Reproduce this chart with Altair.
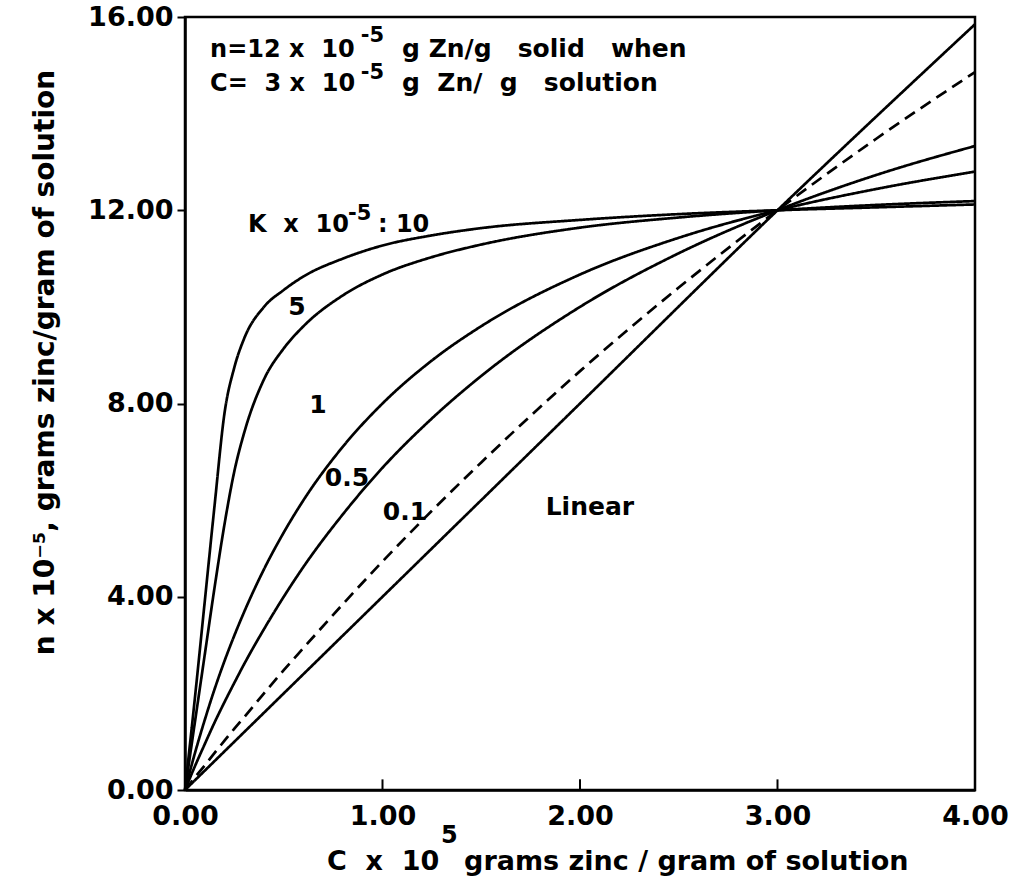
import altair as alt
import pandas as pd

# ---- data ----
C_grid = [0, 0.05, 0.1, 0.15, 0.2, 0.25, 0.3, 0.4, 0.5, 0.6, 0.8, 1.0, 1.25, 1.5, 2.0, 2.5, 3.0, 3.5, 4.0]
n_K10 = [0, 1.9, 3.9, 5.9, 7.8, 8.75, 9.35, 10.0, 10.35, 10.63, 11.0, 11.27, 11.48, 11.63, 11.8, 11.92, 12.0, 12.06, 12.12]
n_K5 = [0, 1.4, 2.8, 4.2, 5.5, 6.6, 7.4, 8.5, 9.14, 9.6, 10.24, 10.67, 11.03, 11.29, 11.64, 11.85, 12.0, 12.11, 12.19]
n_K1 = [0, 0.76, 1.45, 2.09, 2.67, 3.2, 3.69, 4.57, 5.33, 6.0, 7.11, 8.0, 8.89, 9.6, 10.67, 11.43, 12.0, 12.44, 12.8]
n_K05 = [0, 0.49, 0.95, 1.40, 1.82, 2.22, 2.61, 3.33, 4.0, 4.62, 5.71, 6.67, 7.69, 8.57, 10.0, 11.11, 12.0, 12.73, 13.33]
n_K01 = [0, 0.26, 0.51, 0.77, 1.02, 1.27, 1.51, 2.0, 2.48, 2.94, 3.85, 4.73, 5.78, 6.78, 8.67, 10.4, 12.0, 13.48, 14.86]
C_lin = [0, 1, 2, 3, 4]
n_lin = [0, 4, 8, 12, 15.85]

series_names = ["K10", "K5", "K1", "K0.5", "K0.1"]
series_vals = [n_K10, n_K5, n_K1, n_K05, n_K01]
series_style = ["solid", "solid", "solid", "solid", "dashed"]

x_ticks = [0, 1, 2, 3, 4]
y_ticks = [0, 4, 8, 12, 16]
inner_x_ticks = [1, 2, 3]

S = "\u00a0"  # non-breaking space (keeps wide spacing)

# phrase annotations (left aligned, alphabetic baseline)
word_text = ["n=12" + S + "x" + S + S + "10", "-5",
             "g" + S + "Zn/g" + S + S + S + "solid" + S + S + S + "when",
             "C=" + S + S + "3" + S + "x" + S + S + "10", "-5",
             "g" + S + S + "Zn/" + S + S + "g" + S + S + S + "solution",
             "K" + S + S + "x" + S + S + "10", "-5", ":" + S + "10",
             "C" + S + S + "x" + S + S + "10", "5", "grams zinc / gram of solution"]
word_x = [0.127, 0.89, 1.099,
          0.127, 0.89, 1.099,
          0.319, 0.825, 0.977,
          0.719, 1.296, 1.413]
word_y = [15.17, 15.48, 15.17,
          14.47, 14.72, 14.47,
          11.55, 11.80, 11.55,
          -1.656, -1.097, -1.656]
word_size = [24, 21, 25,
             24, 21, 25,
             24, 21, 24,
             27, 24, 27]

# curve labels (centred)
lab_text = ["5", "1", "0.5", "0.1", "Linear"]
lab_x = [0.567, 0.673, 0.82, 1.114, 2.05]
lab_y = [10.0, 7.97, 6.46, 5.75, 5.86]
lab_size = [25, 25, 25, 25, 25]

# ---- build tables ----
rows = []
for name, vals, st in zip(series_names, series_vals, series_style):
    for c, v in zip(C_grid, vals):
        rows.append({"C": c, "n": v, "series": name, "style": st})
for c, v in zip(C_lin, n_lin):
    rows.append({"C": c, "n": v, "series": "Linear", "style": "solid"})
df = pd.DataFrame(rows)

words = pd.DataFrame({"text": word_text, "C": word_x, "n": word_y, "size": word_size})
labs = pd.DataFrame({"text": lab_text, "C": lab_x, "n": lab_y, "size": lab_size})
tick_df = pd.DataFrame({"C": inner_x_ticks, "n0": [0] * 3, "n1": [0.22] * 3})

FONT = "DejaVu Sans"

xscale = alt.Scale(domain=[0, 4], nice=False, zero=False)
yscale = alt.Scale(domain=[0, 16], nice=False, zero=False)

x_axis = alt.Axis(values=x_ticks, format=".2f", grid=False,
                  labelFont=FONT, labelFontWeight="bold", labelFontSize=27,
                  labelColor="black", labelPadding=13, labelFlush=False,
                  tickSize=0, domainColor="black", domainWidth=2.5)
y_axis = alt.Axis(values=y_ticks, format=".2f", grid=False,
                  labelFont=FONT, labelFontWeight="bold", labelFontSize=27,
                  labelColor="black", labelPadding=4, labelFlush=False,
                  tickSize=8, tickWidth=2, tickColor="black",
                  domainColor="black", domainWidth=2.5,
                  title="n x 10\u207b\u2075,  grams zinc/gram of solution",
                  titleFont=FONT, titleFontSize=28, titleFontWeight="bold",
                  titleColor="black", titleX=-140, titleY=345, titleAngle=270,
                  titleAlign="center", titleBaseline="middle")

lines = alt.Chart(df).mark_line(color="black", strokeWidth=2.7, interpolate="monotone").encode(
    x=alt.X("C:Q", scale=xscale, axis=x_axis, title=None),
    y=alt.Y("n:Q", scale=yscale, axis=y_axis),
    detail="series:N",
    strokeDash=alt.StrokeDash("style:N", scale=alt.Scale(domain=["solid", "dashed"],
                                                         range=[[1, 0], [12, 7]]),
                              legend=None),
)

inner_ticks = alt.Chart(tick_df).mark_rule(color="black", strokeWidth=2).encode(
    x="C:Q", y="n0:Q", y2="n1:Q")

txt_words = alt.Chart(words).mark_text(align="left", baseline="alphabetic", font=FONT,
                                       fontWeight="bold", color="black").encode(
    x="C:Q", y="n:Q", text="text:N", size=alt.Size("size:Q", scale=None, legend=None))
txt_labs = alt.Chart(labs).mark_text(align="center", baseline="middle", font=FONT,
                                     fontWeight="bold", color="black").encode(
    x="C:Q", y="n:Q", text="text:N", size=alt.Size("size:Q", scale=None, legend=None))

chart = alt.layer(lines, inner_ticks, txt_words, txt_labs).properties(
    width=790, height=773,
    autosize=alt.AutoSizeParams(type="none"),
    padding={"left": 185, "top": 17, "right": 45, "bottom": 87},
    background="white",
).configure_view(stroke="black", strokeWidth=2.5)

chart.save("out.html", embed_options={"renderer": "svg", "actions": False})
